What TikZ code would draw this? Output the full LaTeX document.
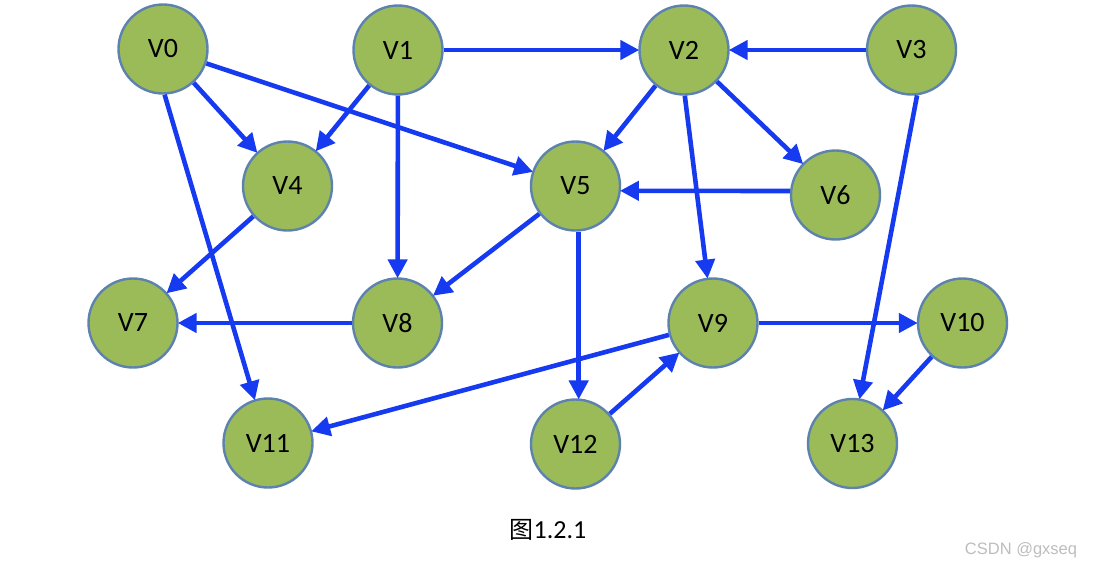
\documentclass[tikz,border=0pt]{standalone}
\usepackage{fontspec}
\setmainfont{Carlito}
\newfontfamily\cjkfont{Noto Sans CJK SC}
\newfontfamily\wmfont{Liberation Sans}
\usetikzlibrary{arrows.meta}
\definecolor{nodefill}{HTML}{9BBB59}
\definecolor{nodeedge}{HTML}{5E82AE}
\definecolor{edgeblue}{RGB}{22,58,240}
\definecolor{wmgray}{HTML}{BDBDBD}
\tikzset{
  vtx/.style={circle, fill=nodefill, draw=nodeedge, line width=2.4pt,
    minimum size=89pt, inner sep=0pt, font=\fontsize{28pt}{32pt}\selectfont},
  arc/.style={draw=edgeblue, line width=4.6pt,
    -{Triangle[length=19pt,width=19pt]}, shorten >=-1pt}
}
\begin{document}
\begin{tikzpicture}[x=1pt,y=-1pt]
\useasboundingbox (0,0) rectangle (1098,565);
\node[vtx] (V0) at (163,49) {V0};
\node[vtx] (V1) at (398,50) {V1};
\node[vtx] (V2) at (684,50) {V2};
\node[vtx] (V3) at (911.5,50) {V3};
\node[vtx] (V4) at (287.5,186) {V4};
\node[vtx] (V5) at (575.5,186) {V5};
\node[vtx] (V6) at (835.5,195) {V6};
\node[vtx] (V7) at (133,323) {V7};
\node[vtx] (V8) at (397.5,323) {V8};
\node[vtx] (V9) at (713,323) {V9};
\node[vtx] (V10) at (962.5,323) {V10};
\node[vtx] (V11) at (268,443) {V11};
\node[vtx] (V12) at (575.5,444) {V12};
\node[vtx] (V13) at (852.5,443.5) {V13};

\draw[arc] (V1) -- (V2);
\draw[arc] (V3) -- (V2);
\draw[arc] (V0) -- (V4);
\draw[arc] (V1) -- (V4);
\draw[arc] (V0) -- (V5);
\draw[arc] (V0.-88) -- (V11.107);
\draw[arc] (V1) -- (V8);
\draw[arc] (V2) -- (V5);
\draw[arc] (V2) -- (V6);
\draw[arc] (V2.-89) -- (V9.97);
\draw[arc] (V6.175) -- (V5.-6);
\draw[arc] (V3.-83) -- (V13.81);
\draw[arc] (V4) -- (V7);
\draw[arc] (V5) -- (V8);
\draw[arc] (V5.-86) -- (V12.86);
\draw[arc] (V8) -- (V7);
\draw[arc] (V9) -- (V10);
\draw[arc] (V9) -- (V11);
\draw[arc] (V12) -- (V9);
\draw[arc] (V10) -- (V13);

\node (cap) at (548,530) {{\cjkfont\fontsize{24pt}{27pt}\selectfont 图}{\fontsize{26pt}{29pt}\selectfont 1.2.1}};
\node[text=wmgray, font=\wmfont\fontsize{16.5pt}{18pt}\selectfont] (wm) at (1021,550) {CSDN @gxseq};
\end{tikzpicture}
\end{document}
